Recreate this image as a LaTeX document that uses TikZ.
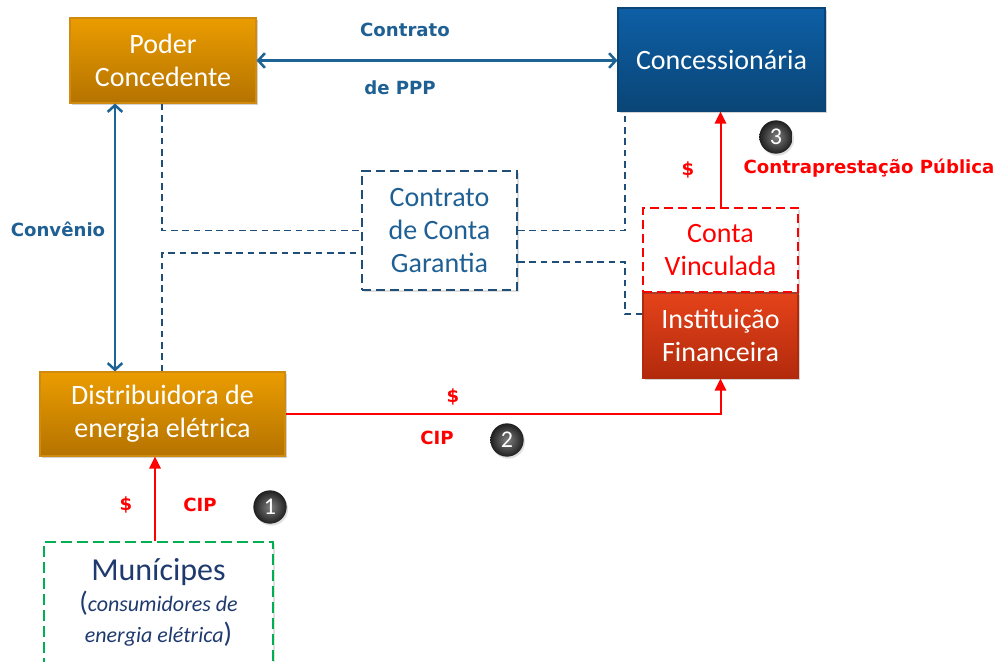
\documentclass[tikz,border=0pt]{standalone}
\usepackage{fontspec}
\setmainfont{Carlito}
\newfontfamily\labfont{DejaVu Sans}
\usetikzlibrary{arrows.meta,shadows,calc}
\definecolor{orTop}{HTML}{EA9C00}
\definecolor{orBot}{HTML}{B57300}
\definecolor{orEdge}{HTML}{D08A10}
\definecolor{blTop}{HTML}{0D5FA6}
\definecolor{blBot}{HTML}{0A4576}
\definecolor{rdTop}{HTML}{E5431A}
\definecolor{rdBot}{HTML}{B22A0C}
\definecolor{lineBlue}{HTML}{1D6396}
\definecolor{dashBlue}{HTML}{1F4E79}
\definecolor{txtBlue}{HTML}{1F6094}
\definecolor{navy}{HTML}{1F3A6E}
\definecolor{myRed}{HTML}{FF0000}
\definecolor{myGreen}{HTML}{00B050}
\tikzset{
  boxfont/.style={font=\fontsize{21}{25}\selectfont},
  solidbox/.style={rectangle, align=center, text=white, boxfont,
    drop shadow={opacity=0.35, shadow xshift=1.5pt, shadow yshift=-1.5pt}},
  orangebox/.style={solidbox, top color=orTop, bottom color=orBot, draw=orEdge, line width=0.8pt},
  bluebox/.style={solidbox, top color=blTop, bottom color=blBot, draw=blBot, line width=0.8pt},
  redbox/.style={solidbox, top color=rdTop, bottom color=rdBot, draw=rdBot, line width=0.8pt},
  dashbox/.style={rectangle, align=center, fill=white, line width=1.4pt, boxfont,
    dash pattern=on 7pt off 3.5pt,
    drop shadow={opacity=0.25, shadow xshift=1.5pt, shadow yshift=-1.5pt}},
  bluearrow/.style={draw=lineBlue, line width=1.9pt,
    {Straight Barb[length=5pt,width=11pt,line width=1.9pt]}-{Straight Barb[length=5pt,width=11pt,line width=1.9pt]}},
  redarrow/.style={draw=myRed, line width=1.5pt, -{Triangle[length=9pt,width=8.5pt]}},
  dashline/.style={draw=dashBlue, line width=1.3pt, dash pattern=on 5pt off 3.5pt},
  lbl/.style={font=\labfont\bfseries\fontsize{13.6}{16}\selectfont, inner sep=0pt},
  badge/.style={circle, inner color=black!50, outer color=black!88, text=white, minimum size=25pt, inner sep=0pt,
    font=\fontsize{18}{18}\selectfont,
    drop shadow={opacity=0.25, shadow xshift=1pt, shadow yshift=-1.5pt}},
}
\begin{document}
\begin{tikzpicture}[x=0.75pt,y=-0.75pt]
\useasboundingbox (0,0) rectangle (995,661);

% nodes
\node[orangebox, minimum width=186*0.75pt, minimum height=85*0.75pt] (pc) at (163,60.5) {Poder\\Concedente};
\node[bluebox, minimum width=207*0.75pt, minimum height=103*0.75pt] (con) at (721.5,59.5) {Concession\'aria};
\node[dashbox, draw=dashBlue, text=txtBlue, minimum width=155*0.75pt, minimum height=119*0.75pt] (ccg) at (439.5,230.5) {Contrato\\de Conta\\Garantia};
\node[redbox, minimum width=155*0.75pt, minimum height=85*0.75pt] (inf) at (720.5,335.5) {Institui\c{c}\~ao\\Financeira};
\node[dashbox, draw=myRed, text=myRed, minimum width=155*0.75pt, minimum height=84*0.75pt] (cv) at (720.5,250) {Conta\\Vinculada};
\node[orangebox, minimum width=245*0.75pt, minimum height=84*0.75pt] (dist) at (162.5,414) {Distribuidora de\\energia el\'etrica};
\node[dashbox, draw=myGreen, text=navy, minimum width=229*0.75pt, minimum height=130*0.75pt,
      dash pattern=on 8pt off 4pt, drop shadow={opacity=0}, text depth=10pt] (mun) at (158.5,607)
  {{\fontsize{24}{26}\selectfont Mun\'icipes}\\[-2pt]
   {\fontsize{21}{24}\selectfont (}{\fontsize{16.5}{24}\selectfont\itshape consumidores de}\\[-2pt]
   {\fontsize{16.5}{24}\selectfont\itshape energia el\'etrica}{\fontsize{21}{24}\selectfont )}};

% helper coordinates
\coordinate (xa) at (155,0);
\coordinate (xb) at (115,0);
\coordinate (xc) at (162,0);
\coordinate (yc) at (0,253);
\coordinate (xd) at (625,0);
\coordinate (ye) at (0,262);
\coordinate (yf) at (0,314);

% blue arrows
\draw[bluearrow] (pc.east) -- (pc.east -| con.west);
\draw[bluearrow] (pc.south -| xb) -- (dist.north -| xb);

% dashed connectors
\draw[dashline] (pc.south -| xc) |- (ccg.west);
\draw[dashline] (dist.north -| xc) |- (ccg.west |- yc);
\draw[dashline] (ccg.east) -| (con.south -| xd);
\draw[dashline] (ccg.east |- ye) -| (xd |- yf) -- (inf.west |- yf);

% red arrows
\draw[redarrow] (mun.north -| xa) -- (dist.south -| xa);
\draw[redarrow] (dist.east) -| (inf.south);
\draw[redarrow] (cv.north) -- (cv.north |- con.south);

% labels
\node[lbl, text=txtBlue] (l1) at (405,30) {Contrato};
\node[lbl, text=txtBlue] (l2) at (400,88) {de PPP};
\node[lbl, text=txtBlue] (l3) at (58,229) {Conv\^enio};
\node[lbl, text=myRed] (l4) at (126,505) {\$};
\node[lbl, text=myRed] (l5) at (200,505) {CIP};
\node[lbl, text=myRed] (l6) at (453,397) {\$};
\node[lbl, text=myRed] (l7) at (437,438) {CIP};
\node[lbl, text=myRed] (l8) at (688,170) {\$};
\node[lbl, text=myRed] (l9) at (869,168) {Contrapresta\c{c}\~ao P\'ublica};

% badges
\node[badge] (b1) at (270,507) {1};
\node[badge] (b2) at (507,440) {2};
\node[badge] (b3) at (776,137) {3};
\end{tikzpicture}
\end{document}
